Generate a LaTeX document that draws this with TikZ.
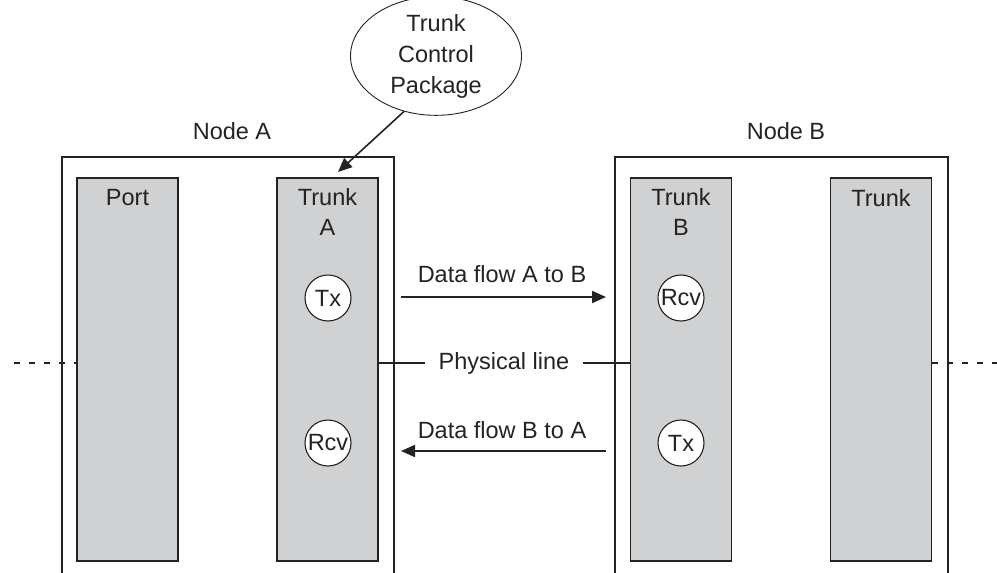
\documentclass[tikz,border=0pt]{standalone}
\usepackage{fontspec}
\setmainfont{Liberation Sans}
\usetikzlibrary{shapes.geometric,arrows.meta}
\definecolor{boxgray}{RGB}{208,209,211}
\definecolor{ink}{RGB}{35,35,35}
\begin{document}
\begin{tikzpicture}[x=1pt,y=-1pt,
  every node/.style={font=\fontsize{23.5}{30}\selectfont, text=ink},
  outerbox/.style={draw=ink, line width=1.6pt, rectangle, inner sep=0pt},
  cardbox/.style={draw=ink, fill=boxgray, line width=1.8pt, rectangle, inner sep=0pt, minimum width=101pt, minimum height=383pt},
  unit/.style={draw=ink, fill=white, circle, line width=1.1pt, inner sep=0pt, minimum size=46pt},
  flow/.style={draw=ink, line width=2pt, -{Triangle[length=14pt,width=12pt]}},
  wire/.style={draw=ink, line width=2pt},
  dashwire/.style={draw=ink, line width=2pt, dash pattern=on 6pt off 9pt}]
\clip (0,0) rectangle (997,573);
% outer node boxes (bottom runs out of the picture)
\node[outerbox, minimum width=332pt, minimum height=443pt] (nodeA) at (228,378.5) {};
\node[outerbox, minimum width=333pt, minimum height=443pt] (nodeB) at (781.5,378.5) {};
\node (labA) at (232,131) {Node A};
\node (labB) at (786,131) {Node B};
% cards
\node[cardbox] (port) at (127.5,369.5) {};
\node[cardbox] (trunkA) at (327.5,369.5) {};
\node[cardbox] (trunkB) at (681,369.5) {};
\node[cardbox] (trunk) at (881,369.5) {};
\node (portL) at (127.5,198) {Port};
\node[align=center, anchor=north] (trunkAL) at (327.5,184.5) {Trunk\\A};
\node[align=center, anchor=north] (trunkBL) at (681,184.5) {Trunk\\B};
\node (trunkL) at (881,198) {Trunk};
% Tx / Rcv
\node[unit] (txA) at (328,298) {Tx};
\node[unit] (rcvA) at (328,443) {Rcv};
\node[unit] (rcvB) at (681,298) {Rcv};
\node[unit] (txB) at (681,443) {Tx};
% ellipse
\node[ellipse, draw=ink, fill=white, line width=0.9pt, minimum width=171pt, minimum height=108pt, inner sep=0pt, align=center, font=\fontsize{23.5}{31}\selectfont] (tcp) at (436,56) {Trunk\\Control\\Package};
\coordinate (tcpTip) at (338,172);
\draw[draw=ink, line width=1.6pt, -{Triangle[length=14pt,width=12pt]}] (tcp.240) -- (tcpTip);
% data flows
\coordinate (ab1) at (401,297);
\coordinate (ab2) at (606,297);
\coordinate (ba1) at (606,451);
\coordinate (ba2) at (401,451);
\draw[flow] (ab1) -- (ab2);
\draw[flow] (ba1) -- (ba2);
\node (abL) at (502,274) {Data flow A to B};
\node (baL) at (502,430) {Data flow B to A};
% physical line
\node[inner sep=0pt] (phys) at (504,363) {Physical line};
\draw[wire] (trunkA.east |- phys) -- ([xshift=-13pt]phys.west);
\draw[wire] ([xshift=13pt]phys.east) -- (trunkB.west |- phys);
\coordinate (leftEnd) at (14,363);
\coordinate (rightEnd) at (997,363);
\draw[dashwire] (leftEnd) -- (port.west |- leftEnd);
\draw[dashwire] (trunk.east |- rightEnd) -- (rightEnd);
\end{tikzpicture}
\end{document}
